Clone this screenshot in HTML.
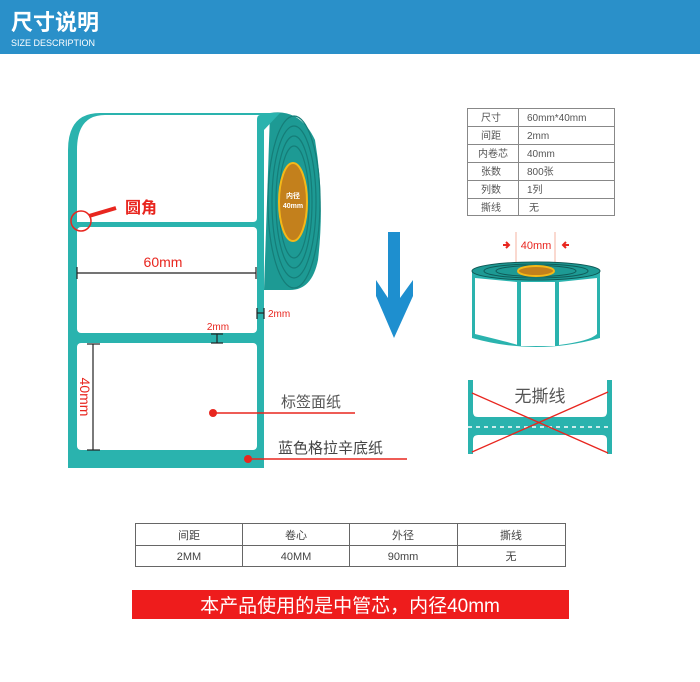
<!DOCTYPE html>
<html><head><meta charset="utf-8"><style>
body{margin:0;width:700px;height:682px;background:#fff;overflow:hidden;font-family:"Liberation Sans","Noto Sans CJK SC",sans-serif}
</style></head><body>
<svg width="700" height="682" xmlns="http://www.w3.org/2000/svg" style="position:absolute;left:0;top:0" font-family="Liberation Sans, Noto Sans CJK SC, sans-serif">
<rect x="0" y="0" width="700" height="54" fill="#2a90c9"/>
<text x="11" y="30" font-size="22" fill="#fff" font-weight="bold">尺寸说明</text>
<text x="11" y="46" font-size="9" fill="#fff">SIZE DESCRIPTION</text>

<!-- roll side -->
<path d="M270 113 Q300 108 315 140 Q325 200 318 260 Q312 290 290 290 L264 290 Z" fill="#1d9a94"/>
<g fill="none" stroke="#157d78" stroke-width="1.2">
<ellipse cx="294" cy="202" rx="26" ry="86"/><ellipse cx="294" cy="202" rx="22" ry="76"/><ellipse cx="294" cy="202" rx="18" ry="66"/><ellipse cx="294" cy="202" rx="15" ry="56"/>
</g>
<!-- backing -->
<path d="M68 468 L68 150 Q68 113 100 113 L280 113 L264 130 L264 468 Z" fill="#2ab3ae"/>
<ellipse cx="293" cy="202" rx="14" ry="39" fill="#c3801c" stroke="#f5b818" stroke-width="2"/>
<text x="293" y="198" font-size="7" fill="#fff" text-anchor="middle" font-weight="bold">内径</text>
<text x="293" y="208" font-size="7" fill="#fff" text-anchor="middle" font-weight="bold">40mm</text>
<path d="M77 222 L77 150 Q77 115 105 115 L260 115 Q257 115 257 120 L257 218 Q257 222 253 222 Z" fill="#fff"/>
<rect x="77" y="227" width="180" height="106" rx="4" fill="#fff"/>
<rect x="77" y="343" width="180" height="107" rx="4" fill="#fff"/>

<circle cx="81" cy="221" r="10" fill="none" stroke="#e8261f" stroke-width="1.5"/>
<line x1="89" y1="216" x2="116" y2="208" stroke="#e8261f" stroke-width="4"/>
<text x="125" y="213" font-size="16" fill="#e8261f" font-weight="bold">圆角</text>

<g stroke="#222" stroke-width="1.2">
<line x1="77" y1="273" x2="256" y2="273"/><line x1="77" y1="267" x2="77" y2="279"/><line x1="256" y1="267" x2="256" y2="279"/>
<line x1="257" y1="313" x2="264" y2="313"/><line x1="257" y1="308" x2="257" y2="319"/><line x1="264" y1="308" x2="264" y2="319"/>
<line x1="217" y1="334" x2="217" y2="343"/><line x1="211" y1="334" x2="223" y2="334"/><line x1="211" y1="343" x2="223" y2="343"/>
<line x1="93" y1="344" x2="93" y2="450"/><line x1="87" y1="344" x2="100" y2="344"/><line x1="87" y1="450" x2="100" y2="450"/>
</g>
<text x="163" y="267" font-size="14" fill="#e8261f" text-anchor="middle">60mm</text>
<text x="268" y="317" font-size="10" fill="#e8261f">2mm</text>
<text x="218" y="330" font-size="10" fill="#e8261f" text-anchor="middle">2mm</text>
<text x="0" y="0" font-size="14" fill="#e8261f" text-anchor="middle" transform="translate(80,397) rotate(90)">40mm</text>

<circle cx="213" cy="413" r="4" fill="#e8261f"/><line x1="213" y1="413" x2="355" y2="413" stroke="#e8261f" stroke-width="1.5"/>
<text x="281" y="407" font-size="15" fill="#555">标签面纸</text>
<circle cx="248" cy="459" r="4" fill="#e8261f"/><line x1="248" y1="459" x2="407" y2="459" stroke="#e8261f" stroke-width="1.5"/>
<text x="278" y="453" font-size="15" fill="#444">蓝色格拉辛底纸</text>

<!-- arrow -->
<path d="M388 232 L400 232 L400 298 L413 280 L413 296 L394 338 L376 296 L376 280 L388 298 Z" fill="#1e8fcf"/>

<!-- spec table -->
<g stroke="#888" stroke-width="1" fill="none">
<rect x="467.5" y="108.5" width="147" height="107"/>
<line x1="518.5" y1="108" x2="518.5" y2="215"/>
<line x1="467" y1="126.5" x2="614" y2="126.5"/><line x1="467" y1="144.5" x2="614" y2="144.5"/><line x1="467" y1="162.5" x2="614" y2="162.5"/><line x1="467" y1="180.5" x2="614" y2="180.5"/><line x1="467" y1="198.5" x2="614" y2="198.5"/>
</g>
<g font-size="10" fill="#555">
<text x="481" y="121">尺寸</text><text x="527" y="121">60mm*40mm</text>
<text x="481" y="139">间距</text><text x="527" y="139">2mm</text>
<text x="478" y="157">内卷芯</text><text x="527" y="157">40mm</text>
<text x="481" y="175">张数</text><text x="527" y="175">800张</text>
<text x="481" y="193">列数</text><text x="527" y="193">1列</text>
<text x="481" y="211">撕线</text><text x="529" y="211">无</text>
</g>

<!-- 3D roll -->
<line x1="516" y1="232" x2="516" y2="272" stroke="#f3a08a" stroke-width="0.8"/>
<line x1="555" y1="232" x2="555" y2="272" stroke="#f3a08a" stroke-width="0.8"/>
<text x="536" y="249" font-size="11" fill="#e8261f" text-anchor="middle">40mm</text>
<path d="M503 245 l6 0 m-3 -3 l3 3 l-3 3" stroke="#e8261f" stroke-width="2" fill="none"/>
<path d="M569 245 l-6 0 m3 -3 l-3 3 l3 3" stroke="#e8261f" stroke-width="2" fill="none"/>
<path d="M472 272 L472 338 Q536 356 600 338 L600 272 Z" fill="#2ab3ae"/>
<path d="M475 278 L475 334 Q520 345 517 345 L517 282 Z" fill="#fff"/>
<path d="M521 282 L521 346 L555 346 L555 282 Z" fill="#fff"/>
<path d="M559 282 L559 345 Q590 341 597 334 L597 278 Z" fill="#fff"/>
<ellipse cx="536" cy="271" rx="64" ry="9" fill="#1d9a94" stroke="#0f5a57" stroke-width="1"/>
<ellipse cx="536" cy="271" rx="52" ry="7" fill="none" stroke="#0f5a57"/>
<ellipse cx="536" cy="271" rx="40" ry="5.5" fill="none" stroke="#0f5a57"/>
<ellipse cx="536" cy="271" rx="18" ry="5" fill="#c3801c" stroke="#f5b818" stroke-width="2"/>

<!-- no tear line -->
<rect x="468" y="380" width="5" height="74" fill="#2ab3ae"/>
<rect x="607" y="380" width="5" height="74" fill="#2ab3ae"/>
<path d="M473 412 Q473 417 478 417 L602 417 Q607 417 607 412 L607 440 Q607 435 602 435 L478 435 Q473 435 473 440 Z" fill="#2ab3ae"/>
<line x1="468" y1="427" x2="612" y2="427" stroke="#fff" stroke-width="1.5" stroke-dasharray="4 4"/>
<text x="540" y="402" font-size="17" fill="#555" text-anchor="middle">无撕线</text>
<line x1="472" y1="393" x2="608" y2="453" stroke="#e8261f" stroke-width="1.3"/>
<line x1="608" y1="392" x2="472" y2="452" stroke="#e8261f" stroke-width="1.3"/>

<!-- bottom table -->
<g stroke="#666" stroke-width="1" fill="none">
<rect x="135.5" y="523.5" width="430" height="43"/>
<line x1="135" y1="545.5" x2="566" y2="545.5"/>
<line x1="242.5" y1="523" x2="242.5" y2="566"/><line x1="349.5" y1="523" x2="349.5" y2="566"/><line x1="457.5" y1="523" x2="457.5" y2="566"/>
</g>
<g font-size="11" fill="#444" text-anchor="middle">
<text x="189" y="539">间距</text><text x="296" y="539">卷心</text><text x="403" y="539">外径</text><text x="511" y="539">撕线</text>
<text x="189" y="560">2MM</text><text x="296" y="560">40MM</text><text x="403" y="560">90mm</text><text x="511" y="560">无</text>
</g>
<rect x="132" y="590" width="437" height="29" fill="#ee1c1c"/>
<text x="350" y="612" font-size="19" fill="#fff" text-anchor="middle">本产品使用的是中管芯，内径40mm</text>
</svg>
</body></html>
